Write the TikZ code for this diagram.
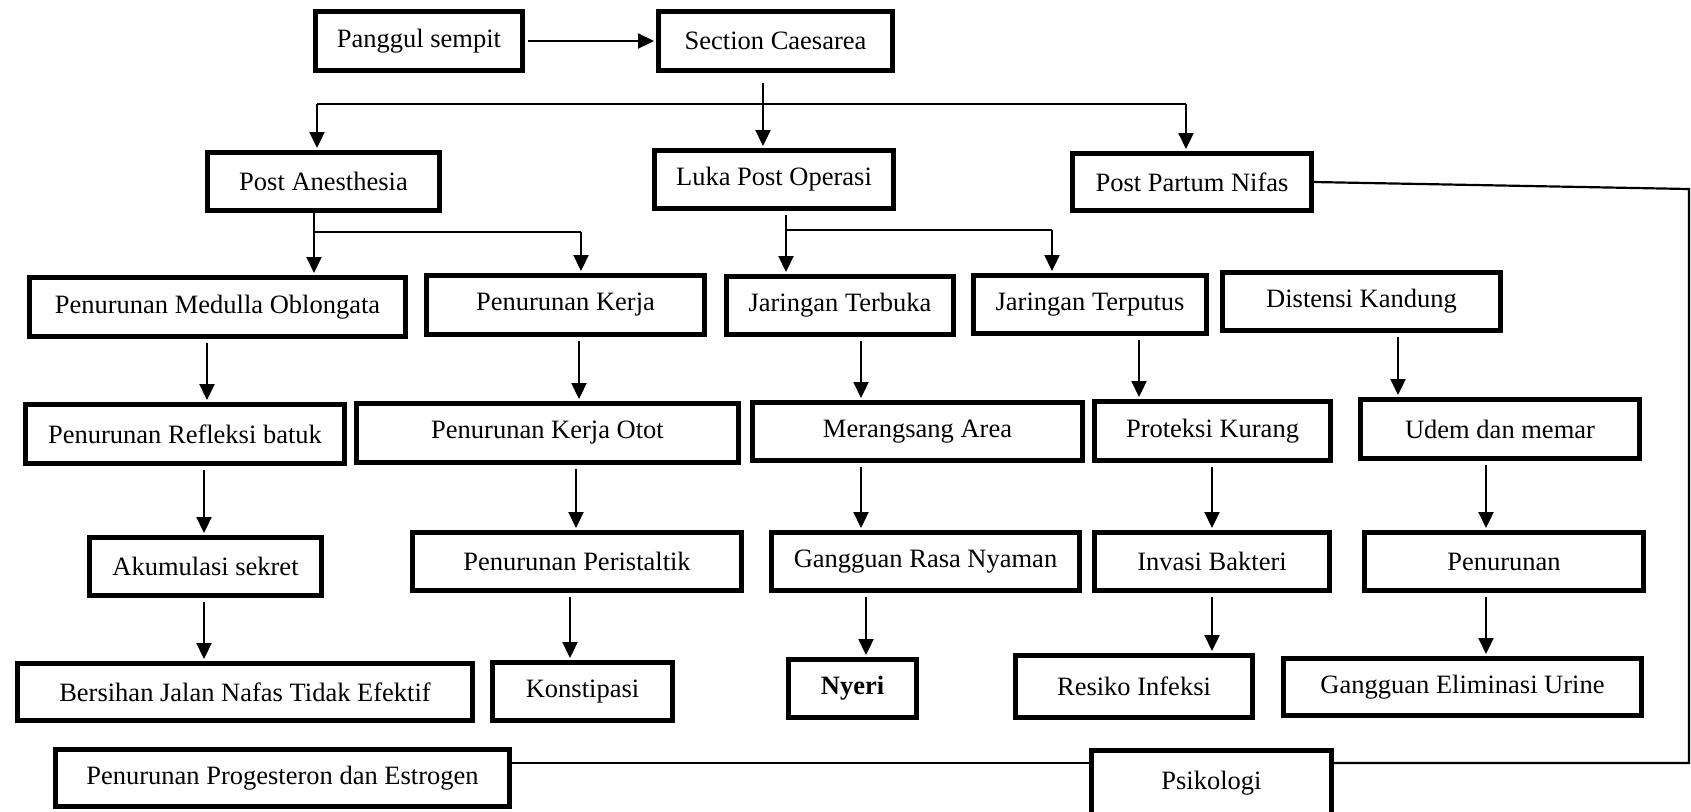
\documentclass[tikz,border=0pt]{standalone}
\usepackage{fontspec}
\setmainfont{Liberation Serif}
\usetikzlibrary{arrows.meta}
\newcommand\mybox[6]{%
 \pgfmathsetmacro\cx{(#2+#4)/2}%
 \pgfmathsetmacro\cy{(#3+#5)/2}%
 \pgfmathsetmacro\ww{(#4-#2-5.2)*0.5}%
 \pgfmathsetmacro\hh{(#5-#3-5.2)*0.5}%
 \node[box, minimum width=\ww pt, minimum height=\hh pt] (#1) at (\cx,\cy) {#6};}
\newcommand\varr[3]{\coordinate (tmpx) at (#3,0); \draw[arr] (#1.south -| tmpx) -- (#2.north -| tmpx);}
\begin{document}
\begin{tikzpicture}[x=0.5pt,y=-0.5pt,
  box/.style={draw, line width=2.6pt, inner sep=0pt, font=\fontsize{13.25}{15}\selectfont, align=center},
  conn/.style={line width=1.1pt},
  arr/.style={line width=1.1pt, -{Triangle[length=8pt,width=7.5pt]}, shorten <=2pt, shorten >=1pt}]
\useasboundingbox (0,0) rectangle (1691,811);
% row 0
\mybox{pang}{313}{9}{525}{73}{Panggul sempit}
\mybox{sec}{656}{9}{895}{73}{Section Caesarea}
% row 1
\mybox{pa}{205}{150}{442}{213}{Post Anesthesia}
\mybox{luka}{652}{148}{896}{211}{Luka Post Operasi}
\mybox{ppn}{1070}{151}{1314}{213}{Post Partum Nifas}
% row 2
\mybox{med}{27}{275}{408}{339}{Penurunan Medulla Oblongata}
\mybox{kerja}{424}{273}{707}{337}{Penurunan Kerja}
\mybox{jter}{724}{274}{956}{337}{Jaringan Terbuka}
\mybox{jtp}{971}{273}{1209}{336}{Jaringan Terputus}
\mybox{dist}{1220}{270}{1503}{333}{Distensi Kandung}
% row 3
\mybox{ref}{23}{402}{347}{466}{Penurunan Refleksi batuk}
\mybox{otot}{354}{401}{741}{465}{Penurunan Kerja Otot}
\mybox{mer}{750}{400}{1085}{463}{Merangsang Area}
\mybox{prot}{1092}{399}{1333}{463}{Proteksi Kurang}
\mybox{udem}{1358}{397}{1642}{461}{Udem dan memar}
% row 4
\mybox{aku}{87}{535}{324}{598}{Akumulasi sekret}
\mybox{peri}{410}{530}{744}{593}{Penurunan Peristaltik}
\mybox{gang}{769}{530}{1082}{593}{Gangguan Rasa Nyaman}
\mybox{inv}{1092}{530}{1332}{593}{Invasi Bakteri}
\mybox{pen}{1362}{530}{1646}{593}{Penurunan}
% row 5
\mybox{ber}{15}{661}{475}{723}{Bersihan Jalan Nafas Tidak Efektif}
\mybox{kon}{490}{660}{675}{723}{Konstipasi}
\mybox{nyeri}{786}{657}{919}{720}{\textbf{Nyeri}}
\mybox{res}{1013}{653}{1255}{720}{Resiko Infeksi}
\mybox{elim}{1281}{656}{1644}{718}{Gangguan Eliminasi Urine}
% row 6
\mybox{prog}{53}{747}{512}{809}{Penurunan Progesteron dan Estrogen}
\mybox{psi}{1089}{748}{1334}{818}{\raisebox{2pt}{Psikologi}}
% connectors
\draw[arr, shorten <=1.5pt] (pang.east) -- (sec.west);
\coordinate (c0) at (763,0);
\draw[arr, shorten <=5pt] (sec.south -| c0) -- (luka.north -| c0);
\coordinate (j1) at (317,104);
\coordinate (j2) at (1186,104);
\draw[conn] (j1) -- (j2);
\draw[arr, shorten <=0pt] (j1) -- (pa.north -| j1);
\draw[arr, shorten <=0pt] (j2) -- (ppn.north -| j2);
\coordinate (k0) at (314,232);
\coordinate (k1) at (581,232);
\draw[arr, shorten <=0pt] (pa.south -| k0) -- (med.north -| k0);
\draw[conn] (k0) -- (k1);
\draw[arr, shorten <=0pt] (k1) -- (kerja.north -| k1);
\coordinate (l0) at (786,230);
\coordinate (l1) at (1052,230);
\draw[arr] (luka.south -| l0) -- (jter.north -| l0);
\draw[conn] (l0) -- (l1);
\draw[arr, shorten <=0pt] (l1) -- (jtp.north -| l1);
\coordinate (r1) at (1689,189);
\coordinate (r2) at (1689,763);
\draw[conn] (ppn.east) -- (r1) -- (r2) -- (psi.east |- r2);
\draw[conn] (psi.west |- r2) -- (prog.east |- r2);
% vertical arrows
\varr{med}{ref}{207}
\varr{kerja}{otot}{579}
\varr{jter}{mer}{861}
\varr{jtp}{prot}{1139}
\varr{dist}{udem}{1398}
\varr{ref}{aku}{204}
\varr{otot}{peri}{576}
\varr{mer}{gang}{861}
\varr{prot}{inv}{1212}
\varr{udem}{pen}{1486}
\varr{aku}{ber}{204}
\varr{peri}{kon}{570}
\varr{gang}{nyeri}{866}
\varr{inv}{res}{1212}
\varr{pen}{elim}{1486}
\end{tikzpicture}
\end{document}
